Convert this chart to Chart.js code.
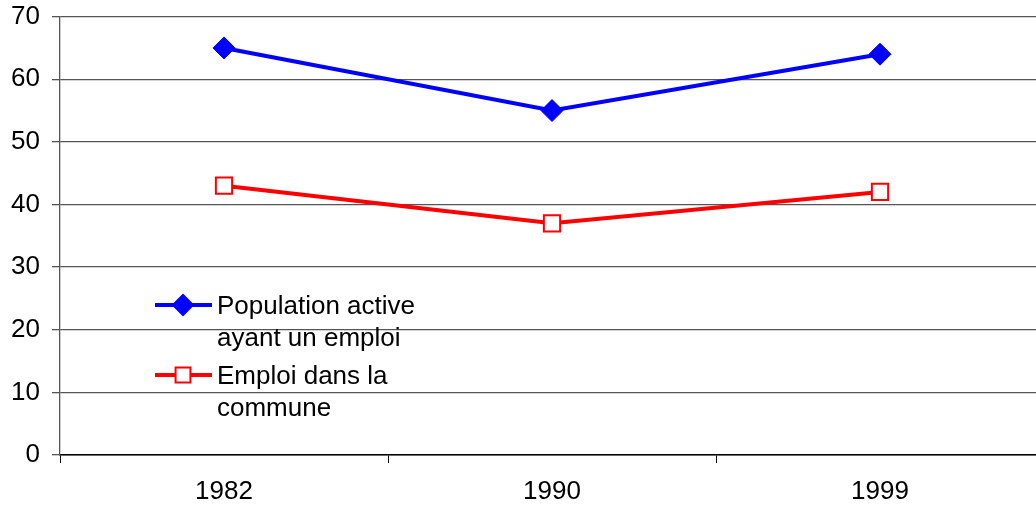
<!DOCTYPE html>
<html lang="fr">
<head>
<meta charset="UTF-8">
<style>
  body { margin: 0; background: #fff; overflow: hidden; }
  #wrap { position: absolute; left: 0; top: -11px; width: 1060px; height: 519px; }
</style>
<title>Population active et emploi</title>
</head>
<body>
<div id="wrap"><canvas id="myChart" width="1060" height="519"></canvas></div>
<script src="https://cdn.jsdelivr.net/npm/chart.js"></script>
<script>
// data
const years = ['1982', '1990', '1999'];
const popActive = [65, 55, 64];
const emploiCommune = [43, 37, 42];
const legendLines = [
  ['Population active', 'ayant un emploi'],
  ['Emploi dans la', 'commune']
];

Chart.defaults.font.family = '"Liberation Sans", Arial, sans-serif';
Chart.defaults.color = '#000';

// legend drawn inside the plot, like the original (canvas is shifted up by 11px)
const insideLegend = {
  id: 'insideLegend',
  afterDraw(chart) {
    const ctx = chart.ctx;
    const items = [
      { color: '#0000ff', style: 'rectRot', radius: 10, fill: '#0000ff', y: 316 },
      { color: '#ff0000', style: 'rect', radius: 10.5, fill: '#ffffff', y: 386 }
    ];
    ctx.save();
    items.forEach((it, i) => {
      ctx.strokeStyle = it.color;
      ctx.lineWidth = 4;
      ctx.beginPath();
      ctx.moveTo(155, it.y);
      ctx.lineTo(212, it.y);
      ctx.stroke();
      ctx.fillStyle = it.fill;
      ctx.lineWidth = 2;
      Chart.helpers.drawPoint(ctx, { pointStyle: it.style, radius: it.radius, borderWidth: 2 }, 183, it.y);
      ctx.fillStyle = '#000';
      ctx.font = '26px "Liberation Sans", Arial, sans-serif';
      ctx.textBaseline = 'middle';
      ctx.textAlign = 'left';
      legendLines[i].forEach((t, j) => ctx.fillText(t, 217, it.y + 2 + j * 32));
    });
    ctx.restore();
  }
};

const data = {
  labels: years,
  datasets: [{
    label: 'Population active ayant un emploi',
    data: popActive,
    borderColor: '#0000ff',
    backgroundColor: '#0000ff',
    borderWidth: 4,
    pointStyle: 'rectRot',
    pointRadius: 11,
    pointHoverRadius: 11,
    pointBorderWidth: 1,
    tension: 0
  }, {
    label: 'Emploi dans la commune',
    data: emploiCommune,
    borderColor: '#ff0000',
    backgroundColor: '#ffffff',
    borderWidth: 4,
    pointStyle: 'rect',
    pointRadius: 11.5,
    pointHoverRadius: 11.5,
    pointBorderWidth: 2,
    tension: 0
  }]
};

const config = {
  type: 'line',
  data,
  options: {
    responsive: false,
    animation: false,
    layout: { padding: { top: 3, right: 16, left: 0, bottom: 0 } },
    scales: {
      x: {
        offset: true,
        grid: { offset: true, drawOnChartArea: false, drawTicks: true, tickLength: 8, color: '#000' },
        border: { color: '#000', width: 1.5 },
        ticks: { font: { size: 26 }, padding: 13 },
        afterFit: s => { s.height = 53; }
      },
      y: {
        min: 0,
        max: 70,
        ticks: { stepSize: 10, font: { size: 26 }, padding: 12 },
        grid: { color: '#555', lineWidth: 1.3, tickLength: 8 },
        border: { color: '#555', width: 1.3 },
        afterFit: s => { s.width = 60; }
      }
    },
    plugins: {
      legend: { display: false },
      tooltip: { enabled: false }
    }
  },
  plugins: [insideLegend]
};

const myChart = new Chart(document.getElementById('myChart'), config);
</script>
</body>
</html>
